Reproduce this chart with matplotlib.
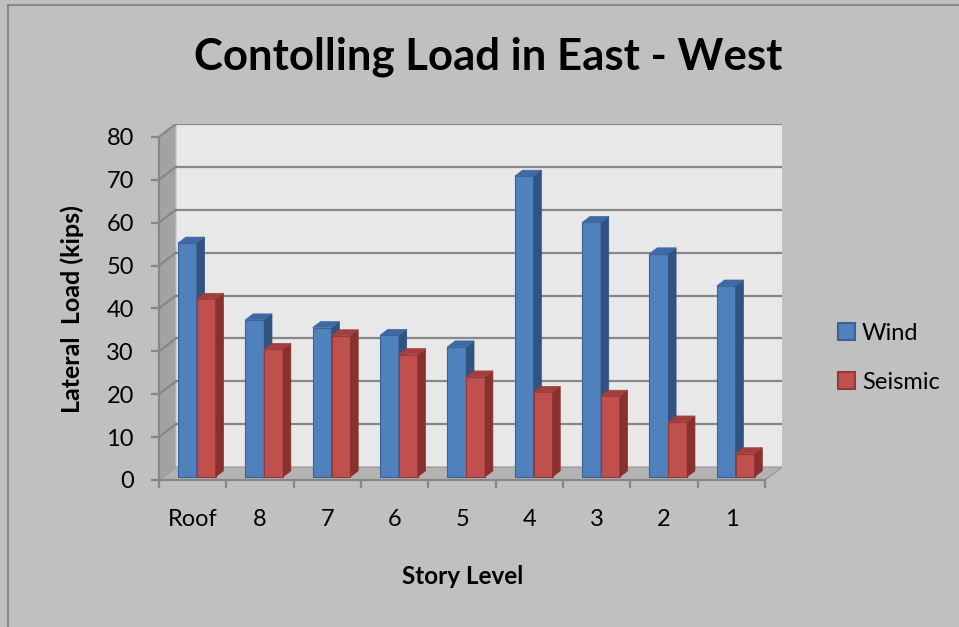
#!/usr/bin/env python3
"""Lateral load per story level, wind vs seismic, drawn as Excel-style 3D columns."""

import matplotlib

matplotlib.use("Agg")
import matplotlib.pyplot as plt
from matplotlib.patches import Patch, Polygon, Rectangle

plt.rcParams["font.family"] = ["Lato", "DejaVu Sans"]

STORIES = ["Roof", "8", "7", "6", "5", "4", "3", "2", "1"]
WIND = [54.5, 36.6, 34.8, 33.0, 30.3, 70.1, 59.3, 52.0, 44.5]
SEISMIC = [41.4, 29.7, 32.9, 28.5, 23.3, 19.7, 18.8, 12.8, 5.4]
Y_TICKS = [0, 10, 20, 30, 40, 50, 60, 70, 80]

# depth of the fake 3D box, in data units
DEPTH_X = 0.25
DEPTH_Y = 3.0
BAR_FRONT = 0.25
BAR_DEPTH = 0.46
BAR_W = 0.28

GRID = "#878787"
BG = "#c0c0c0"

SERIES = [
    ("Wind", WIND, -BAR_W, ("#4f81bd", "#30537f", "#3d6aa3", "#3a6296")),
    ("Seismic", SEISMIC, 0.0, ("#c0504d", "#8a302e", "#a33f3c", "#963a37")),
]


def draw_box(ax, ymax):
    n = len(STORIES)
    x0, x1 = -0.5, n - 0.5
    # back wall
    ax.add_patch(Rectangle((x0 + DEPTH_X, DEPTH_Y), x1 - x0, ymax, facecolor="#e8e8e8",
                           edgecolor="#f4f4f4", linewidth=1, zorder=0))
    # left wall
    ax.add_patch(Polygon([(x0, 0), (x0 + DEPTH_X, DEPTH_Y), (x0 + DEPTH_X, ymax + DEPTH_Y), (x0, ymax)],
                         closed=True, facecolor="#a3a3a3", edgecolor="#b5b5b5", linewidth=1, zorder=0))
    # floor
    ax.add_patch(Polygon([(x0, 0), (x1, 0), (x1 + DEPTH_X, DEPTH_Y), (x0 + DEPTH_X, DEPTH_Y)],
                         closed=True, facecolor="#b3b3b3", edgecolor="#9a9a9a", linewidth=1, zorder=0))
    for v in Y_TICKS[1:]:
        ax.plot([x0 + DEPTH_X, x1 + DEPTH_X], [v + DEPTH_Y, v + DEPTH_Y], color=GRID, linewidth=1.6, zorder=1)
        ax.plot([x0, x0 + DEPTH_X], [v, v + DEPTH_Y], color=GRID, linewidth=1.6, zorder=1)


def draw_bars(ax):
    dx0, dy0 = BAR_FRONT * DEPTH_X, BAR_FRONT * DEPTH_Y
    ddx, ddy = BAR_DEPTH * DEPTH_X, BAR_DEPTH * DEPTH_Y
    z = 2
    for i in range(len(STORIES)):
        for name, values, offset, (face, side, top, edge) in SERIES:
            v = values[i]
            left = i + dx0 + offset
            right = left + BAR_W
            ax.bar(left, v, width=BAR_W, bottom=dy0, align="edge", color=face,
                   edgecolor=edge, linewidth=0.8, zorder=z)
            ax.add_patch(Polygon([(right, dy0), (right + ddx, dy0 + ddy), (right + ddx, dy0 + v + ddy),
                                  (right, dy0 + v)], closed=True, facecolor=side, edgecolor=side,
                                 linewidth=0.5, zorder=z))
            ax.add_patch(Polygon([(left, dy0 + v), (right, dy0 + v), (right + ddx, dy0 + v + ddy),
                                  (left + ddx, dy0 + v + ddy)], closed=True, facecolor=top, edgecolor=top,
                                 linewidth=0.5, zorder=z))
            z += 1


def main():
    fig = plt.figure(figsize=(9.59, 6.27), dpi=100, facecolor=BG)
    fig.add_artist(Rectangle((8 / 959, -0.1), 1.2, 1 - 5 / 627 + 0.1, transform=fig.transFigure,
                             facecolor="none", edgecolor="#888888", linewidth=1.5))

    ax = fig.add_axes([159 / 959, 147 / 627, 623 / 959, 356 / 627])
    ax.set_facecolor("none")
    n = len(STORIES)
    ymax = Y_TICKS[-1]
    ax.set_xlim(-0.5, n - 0.5 + DEPTH_X)
    ax.set_ylim(0, ymax + DEPTH_Y)

    draw_box(ax, ymax)
    draw_bars(ax)

    for side in ("top", "right"):
        ax.spines[side].set_visible(False)
    for side in ("left", "bottom"):
        ax.spines[side].set_color(GRID)
        ax.spines[side].set_linewidth(1.6)
    ax.spines["left"].set_bounds(0, ymax)
    ax.spines["bottom"].set_bounds(-0.5, n - 0.5)

    ax.set_yticks(Y_TICKS)
    ax.tick_params(axis="y", direction="out", length=6, width=1.6, color=GRID, pad=12, labelsize=17)
    ax.set_xticks(range(n))
    ax.set_xticklabels(STORIES)
    ax.set_xticks([i - 0.5 for i in range(n + 1)], minor=True)
    ax.tick_params(axis="x", which="major", length=0, pad=21, labelsize=17)
    ax.tick_params(axis="x", which="minor", direction="out", length=6, width=1.6, color=GRID)

    fig.text(488 / 959, 1 - 57 / 627, "Contolling Load in East - West", ha="center", va="center",
             fontsize=31.5, fontweight="bold")
    fig.text(72 / 959, 1 - 309 / 627, "Lateral  Load (kips)", ha="center", va="center", rotation=90,
             fontsize=18, fontweight="bold")
    fig.text(463 / 959, 1 - 577 / 627, "Story Level", ha="center", va="center",
             fontsize=17.5, fontweight="bold")

    handles = [Patch(facecolor=face, edgecolor=edge, linewidth=1.5, label=name)
               for name, _, _, (face, _, _, edge) in SERIES]
    fig.legend(handles=handles, loc="center left", bbox_to_anchor=(838 / 959, 1 - 358 / 627),
               frameon=False, fontsize=17, handlelength=0.72, handleheight=0.72, handletextpad=0.3,
               labelspacing=1.2, borderpad=0, borderaxespad=0)

    fig.savefig("out.png", dpi=100, facecolor=BG)
    plt.close(fig)


if __name__ == "__main__":
    main()
